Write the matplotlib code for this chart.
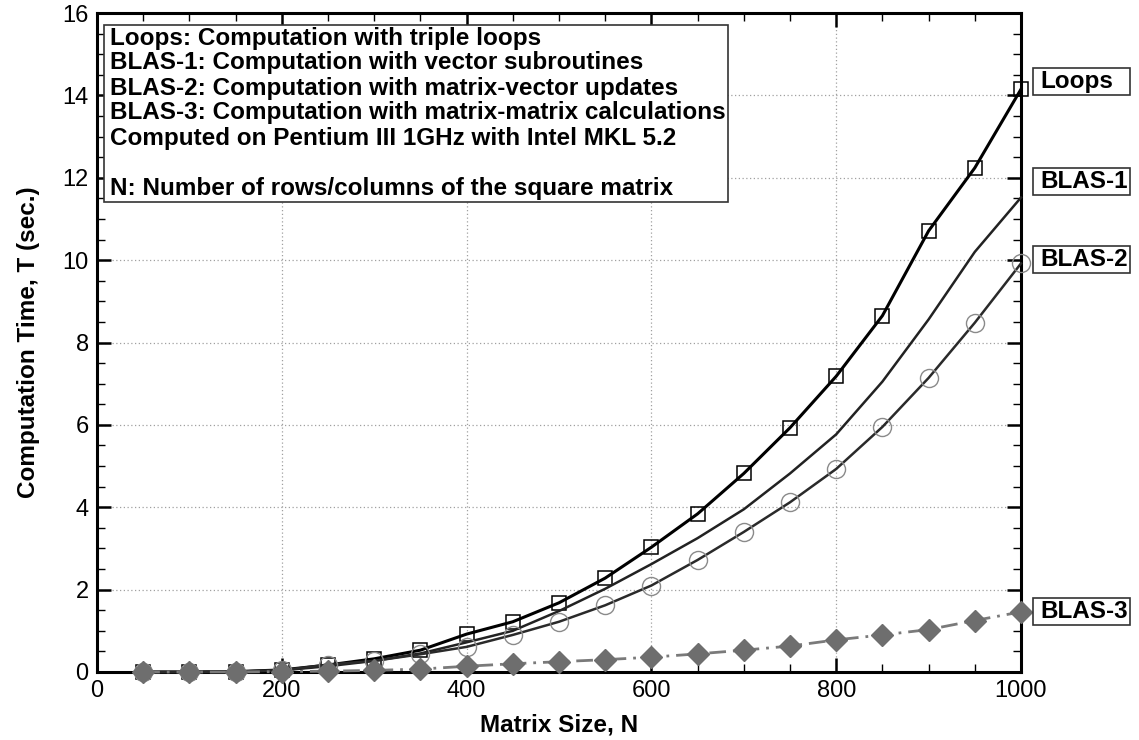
import matplotlib
matplotlib.use("Agg")
import matplotlib.pyplot as plt
from matplotlib.patches import Rectangle
from matplotlib.ticker import MultipleLocator
from matplotlib import transforms

plt.rcParams['font.family'] = ['Liberation Sans', 'DejaVu Sans']

# ---- data ----
matrix_size = [50, 100, 150, 200, 250, 300, 350, 400, 450, 500,
               550, 600, 650, 700, 750, 800, 850, 900, 950, 1000]
loops = [0.0, 0.0, 0.01, 0.05, 0.17, 0.32, 0.53, 0.92, 1.22, 1.68,
         2.28, 3.03, 3.84, 4.82, 5.93, 7.18, 8.65, 10.71, 12.24, 14.15]
blas1 = [0.0, 0.0, 0.01, 0.04, 0.14, 0.27, 0.45, 0.72, 1.00, 1.48,
         2.02, 2.62, 3.25, 3.95, 4.82, 5.77, 7.05, 8.56, 10.20, 11.52]
blas2 = [0.0, 0.0, 0.01, 0.04, 0.18, 0.27, 0.43, 0.61, 0.90, 1.22,
         1.62, 2.10, 2.72, 3.40, 4.12, 4.93, 5.95, 7.14, 8.48, 9.92]
blas3 = [0.0, 0.0, 0.0, 0.01, 0.02, 0.04, 0.07, 0.14, 0.20, 0.25,
         0.30, 0.36, 0.44, 0.53, 0.63, 0.78, 0.90, 1.03, 1.25, 1.46]

series_labels = ["Loops", "BLAS-1", "BLAS-2", "BLAS-3"]
label_levels = [14.34, 11.90, 10.01, 1.47]
note_lines = [
    "Loops: Computation with triple loops",
    "BLAS-1: Computation with vector subroutines",
    "BLAS-2: Computation with matrix-vector updates",
    "BLAS-3: Computation with matrix-matrix calculations",
    "Computed on Pentium III 1GHz with Intel MKL 5.2",
    "",
    "N: Number of rows/columns of the square matrix",
]
x_ticks = [0, 200, 400, 600, 800, 1000]
y_ticks = [0, 2, 4, 6, 8, 10, 12, 14, 16]

# ---- figure ----
W, H = 1139, 740
fig = plt.figure(figsize=(W / 100, H / 100), dpi=100)
L, R, T, B = 97, 1021, 13, 672
ax = fig.add_axes([L / W, (H - B) / H, (R - L) / W, (B - T) / H])

ax.set_xlim(0, 1000)
ax.set_ylim(0, 16)

ax.plot(matrix_size, loops, color='black', lw=2.2, marker='s', ms=10.5,
        mfc='none', mec='black', mew=1.1, clip_on=False, zorder=3)
ax.plot(matrix_size, blas1, color='#222222', lw=1.8, clip_on=False, zorder=3)
ax.plot(matrix_size, blas2, color='#2a2a2a', lw=1.8, marker='o', ms=13,
        mfc='none', mec='#8a8a8a', mew=1.0, clip_on=False, zorder=3)
ax.plot(matrix_size, blas3, color='#7a7a7a', lw=2.0,
        linestyle=(0, (6, 2.5, 1, 2.5)), marker='D', ms=11.5,
        mfc='#6e6e6e', mec='#6e6e6e', clip_on=False, zorder=4)

# axes styling
ax.set_xticks(x_ticks)
ax.set_yticks(y_ticks)
ax.xaxis.set_minor_locator(MultipleLocator(50))
ax.yaxis.set_minor_locator(MultipleLocator(0.5))
ax.tick_params(which='both', direction='in', top=True, right=True)
ax.tick_params(which='major', length=10, width=1.8, labelsize=17, pad=6)
ax.tick_params(which='minor', length=6, width=1.0)
for sp in ax.spines.values():
    sp.set_linewidth(2.2)
ax.grid(True, which='major', linestyle=(0, (1, 2)), color='#a0a0a0', lw=0.9)

ax.set_xlabel("Matrix Size, N", fontsize=17.5, fontweight='bold', labelpad=8)
ax.set_ylabel("Computation Time, T (sec.)", fontsize=17.5, fontweight='bold', labelpad=16)

# note box (axes fraction)
def ax_x(px):
    return (px - L) / (R - L)

def ax_y(py):
    return (B - py) / (B - T)

bx0, bx1, by0, by1 = 104, 728, 25, 202
ax.add_patch(Rectangle((ax_x(bx0), ax_y(by1)), ax_x(bx1) - ax_x(bx0), ax_y(by0) - ax_y(by1),
                       transform=ax.transAxes, facecolor='white', edgecolor='#333333',
                       lw=1.2, zorder=5))
line_px = [38, 63, 88, 113, 138, 163, 188]
for txt, py in zip(note_lines, line_px):
    if txt:
        ax.text(ax_x(110), ax_y(py), txt, transform=ax.transAxes, fontsize=17.5,
                fontweight='bold', va='center', ha='left', zorder=6)

# right-side series labels in fixed-width boxes
blend = transforms.blended_transform_factory(ax.transAxes, ax.transData)
box_h = 27 / ((B - T) / 16.0)
for lab, yc in zip(series_labels, label_levels):
    ax.add_patch(Rectangle((ax_x(1033), yc - box_h / 2), ax_x(1130) - ax_x(1033), box_h,
                           transform=blend, facecolor='white', edgecolor='#333333',
                           lw=1.2, clip_on=False, zorder=5))
    ax.text(ax_x(1040), yc, lab, transform=blend, fontsize=17.5, fontweight='bold',
            va='center', ha='left', clip_on=False, zorder=6)

fig.savefig("out.png", dpi=100)
